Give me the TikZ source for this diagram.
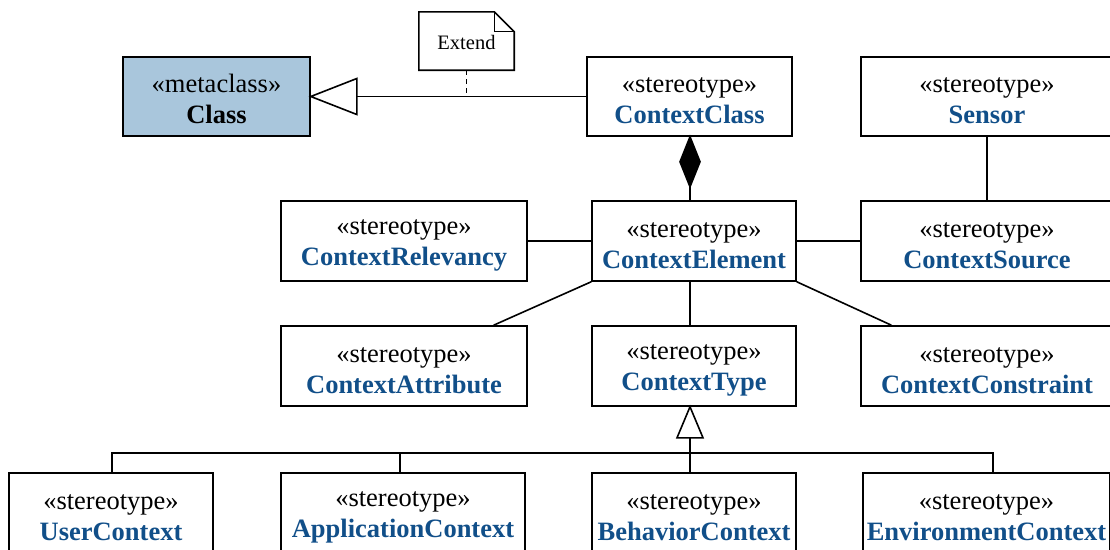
\documentclass[tikz,border=0pt]{standalone}
\usepackage{fontspec}
\setmainfont{Liberation Serif}
\usetikzlibrary{calc}
\definecolor{stereoblue}{RGB}{17,79,137}
\definecolor{metafill}{RGB}{169,198,220}
\tikzset{
  umlbox/.style={draw, line width=1.6pt, fill=white, minimum height=80pt,
    inner sep=0pt, align=center, font=\fontsize{26.5}{31}\selectfont},
  link/.style={line width=1.6pt},
  hollowtip/.style={line width=1.6pt, fill=white, line join=miter},
}
% keyword line (with a strut that sets the block a little lower) and bold name
\newcommand{\kwline}[1]{\rule{0pt}{24pt}«#1»}
\newcommand{\stereo}[1]{\kwline{stereotype}\\\textbf{\textcolor{stereoblue}{#1}}}

\begin{document}
\begin{tikzpicture}[x=1pt,y=-1pt]
\useasboundingbox (0,0) rectangle (1110,549);
\clip (0,0) rectangle (1110,549);

% vertical axis of the central column
\coordinate (axis) at (690,0);

% top row
\node[umlbox, fill=metafill, minimum width=187pt, minimum height=79pt] (cls) at (216.5,96.5) {\kwline{metaclass}\\\textbf{Class}};
\node[umlbox, minimum width=205pt, minimum height=79pt] (cc) at (689.5,96.5) {\stereo{ContextClass}};
\node[umlbox, minimum width=252pt, minimum height=79pt] (sensor) at (987,96.5) {\stereo{Sensor}};

% note
\node[minimum width=95pt, minimum height=58pt, inner sep=0pt] (note) at (466.5,41) {};
\draw[link, line join=miter, fill=white]
  (note.north west) -- ($(note.north east)+(-20,0)$) -- ($(note.north east)+(0,20)$)
  -- (note.south east) -- (note.south west) -- cycle;
\draw[link, line width=1.2pt] ($(note.north east)+(-20,0)$) -- ($(note.north east)+(-20,20)$) -- ($(note.north east)+(0,20)$);
\node[font=\fontsize{20.5}{24}\selectfont] (notetext) at ($(note.center)+(0,1.5)$) {Extend};

% extension of Class by ContextClass
\draw[link] (cc.west) -- (cls.east);
\draw[hollowtip] (cls.east) -- ++(46,-18) -- ++(0,36) -- cycle;
\draw[link, dash pattern=on 5pt off 4pt] (note.south) -- (note.south |- cc.west);

% second row
\node[umlbox, minimum width=246pt] (cr) at (404,241) {\stereo{ContextRelevancy}};
\node[umlbox, minimum width=204pt] (ce) at (694,241) {\stereo{ContextElement}};
\node[umlbox, minimum width=252pt] (cs) at (987,241) {\stereo{ContextSource}};

% composition ContextClass <>-- ContextElement
\coordinate (dtop) at (cc.south -| axis);
\draw[link, fill=black, line join=miter] (dtop) -- ++(10,25) -- ++(-10,25) -- ++(-10,-25) -- cycle;
\draw[link] ($(dtop)+(0,50)$) -- (ce.north -| axis);

\draw[link] (cr.east) -- (ce.west);
\draw[link] (ce.east) -- (cs.west);
\draw[link] (sensor.south) -- (cs.north);

% third row
\node[umlbox, minimum width=246pt] (ca) at (404,366) {\stereo{ContextAttribute}};
\node[umlbox, minimum width=204pt] (ct) at (694,366) {\stereo{ContextType}};
\node[umlbox, minimum width=252pt] (ccon) at (987,366) {\stereo{ContextConstraint}};

\draw[link] (ce.south west) -- ($(ca.north west)!0.862!(ca.north east)$);
\draw[link] (ce.south -| axis) -- (ct.north -| axis);
\draw[link] (ce.south east) -- ($(ccon.north west)!0.123!(ccon.north east)$);

% bottom row
\node[umlbox, minimum width=204pt] (uc) at (111,513) {\stereo{UserContext}};
\node[umlbox, minimum width=244pt] (ac) at (403,513) {\stereo{ApplicationContext}};
\node[umlbox, minimum width=204pt] (bc) at (694,513) {\stereo{BehaviorContext}};
\node[umlbox, minimum width=247pt] (ec) at (986.5,513) {\stereo{EnvironmentContext}};

% generalisation tree into ContextType
\coordinate (gtip) at (ct.south -| axis);
\coordinate (gbase) at ($(gtip)+(0,31)$);
\coordinate (bus) at ($(gtip)+(0,46)$);
\coordinate (ucx) at (112,0);
\coordinate (acx) at (400,0);
\coordinate (ecx) at (993,0);
\draw[link] (gbase) -- (bus);
\draw[link, line join=miter] (uc.north -| ucx) -- (bus -| ucx) -- (bus -| ecx) -- (ec.north -| ecx);
\draw[link] (bus -| acx) -- (ac.north -| acx);
\draw[link] (bus) -- (bc.north -| axis);
\draw[hollowtip] (gtip) -- ($(gbase)+(13,0)$) -- ($(gbase)+(-13,0)$) -- cycle;
\end{tikzpicture}
\end{document}
